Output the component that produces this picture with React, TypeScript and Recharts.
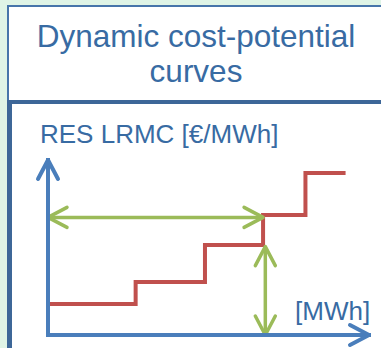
import { LineChart, Line, XAxis, YAxis, ReferenceLine } from "recharts";

const BLUE = "#4A7EBB";
const RED = "#C0504D";
const GREEN = "#9BBB59";
const TEXT = "#386BA3";
const FRAME = "#3D6798";
const FONT = "'Liberation Sans', Arial, sans-serif";

// step curve: cumulative potential vs. long-run marginal cost
const capacity = [0, 27.3, 48.9, 67, 80.2, 92.7];
const lrmc = [17.7, 30.3, 51.4, 68.6, 92.6, 92.6];

// the two green arrows (potential span and cost level)
const potentialSpan = [0, 67];
const potentialLevel = 67.2;
const costSpan = [0, 50.5];
const costAt = 67.7;

const xDomain = [0, 100];
const yDomain = [0, 100];

const data = capacity.map((c, i) => ({ capacity: c, lrmc: lrmc[i] }));

const DoubleArrow = (props: any) => {
  const { x1, y1, x2, y2 } = props;
  return (
    <line
      x1={x1}
      y1={y1}
      x2={x2}
      y2={y2}
      stroke={GREEN}
      strokeWidth={3.5}
      markerStart="url(#head-green)"
      markerEnd="url(#head-green)"
    />
  );
};

export default function App() {
  return (
    <div
      style={{
        position: "absolute",
        left: 0,
        top: 0,
        width: 381,
        height: 348,
        overflow: "hidden",
        background: "#DFF4E6",
        fontFamily: FONT,
      }}
    >
      <svg width={0} height={0} style={{ position: "absolute" }}>
        <defs>
          <marker
            id="head-blue"
            markerUnits="userSpaceOnUse"
            viewBox="0 0 30 30"
            markerWidth={30}
            markerHeight={30}
            refX={25}
            refY={15}
            orient="auto-start-reverse"
          >
            <path d="M6,5 L25,15 L6,25" fill="none" stroke={BLUE} strokeWidth={4} strokeLinecap="round" strokeLinejoin="round" />
          </marker>
          <marker
            id="head-green"
            markerUnits="userSpaceOnUse"
            viewBox="0 0 30 30"
            markerWidth={30}
            markerHeight={30}
            refX={25}
            refY={15}
            orient="auto-start-reverse"
          >
            <path d="M6,5 L25,15 L6,25" fill="none" stroke={GREEN} strokeWidth={3.5} strokeLinecap="round" strokeLinejoin="round" />
          </marker>
        </defs>
      </svg>

      {/* title box */}
      <div
        style={{
          position: "absolute",
          left: 7,
          top: 5,
          width: 400,
          height: 96,
          background: "#fff",
          borderTop: "2px solid #4775AA",
          borderLeft: "2px solid #4775AA",
        }}
      />
      {/* chart box */}
      <div
        style={{
          position: "absolute",
          left: 7,
          top: 100,
          width: 400,
          height: 300,
          background: "#fff",
          borderTop: `4px solid ${FRAME}`,
          borderLeft: `5px solid ${FRAME}`,
        }}
      />

      <svg width={381} height={348} style={{ position: "absolute", left: 0, top: 0 }}>
        <text x={196} y={47} textAnchor="middle" fontSize={31.5} fill={TEXT} fontFamily={FONT}>
          Dynamic cost-potential
        </text>
        <text x={196} y={82} textAnchor="middle" fontSize={31.5} fill={TEXT} fontFamily={FONT}>
          curves
        </text>
        <text x={40} y={142.5} fontSize={26} fill={TEXT} fontFamily={FONT}>
          RES LRMC [€/MWh]
        </text>
        <text x={295} y={320} fontSize={26} fill={TEXT} fontFamily={FONT}>
          [MWh]
        </text>
      </svg>

      <div style={{ position: "absolute", left: 0, top: 0 }}>
        <LineChart width={381} height={348} data={data} margin={{ top: 160, right: 12, bottom: 12, left: 47 }}>
          <XAxis
            dataKey="capacity"
            type="number"
            domain={xDomain}
            height={1}
            tick={false}
            tickLine={false}
            axisLine={{ stroke: BLUE, strokeWidth: 4, strokeLinecap: "square", markerEnd: "url(#head-blue)" }}
          />
          <YAxis
            type="number"
            domain={yDomain}
            width={1}
            tick={false}
            tickLine={false}
            axisLine={{ stroke: BLUE, strokeWidth: 4, strokeLinecap: "square", markerStart: "url(#head-blue)" }}
          />
          <Line
            dataKey="lrmc"
            type="stepAfter"
            stroke={RED}
            strokeWidth={4}
            dot={false}
            activeDot={false}
            isAnimationActive={false}
          />
          <ReferenceLine
            segment={[
              { x: potentialSpan[0], y: potentialLevel },
              { x: potentialSpan[1], y: potentialLevel },
            ]}
            ifOverflow="visible"
            shape={DoubleArrow}
          />
          <ReferenceLine
            segment={[
              { x: costAt, y: costSpan[0] },
              { x: costAt, y: costSpan[1] },
            ]}
            ifOverflow="visible"
            shape={DoubleArrow}
          />
        </LineChart>
      </div>
    </div>
  );
}
